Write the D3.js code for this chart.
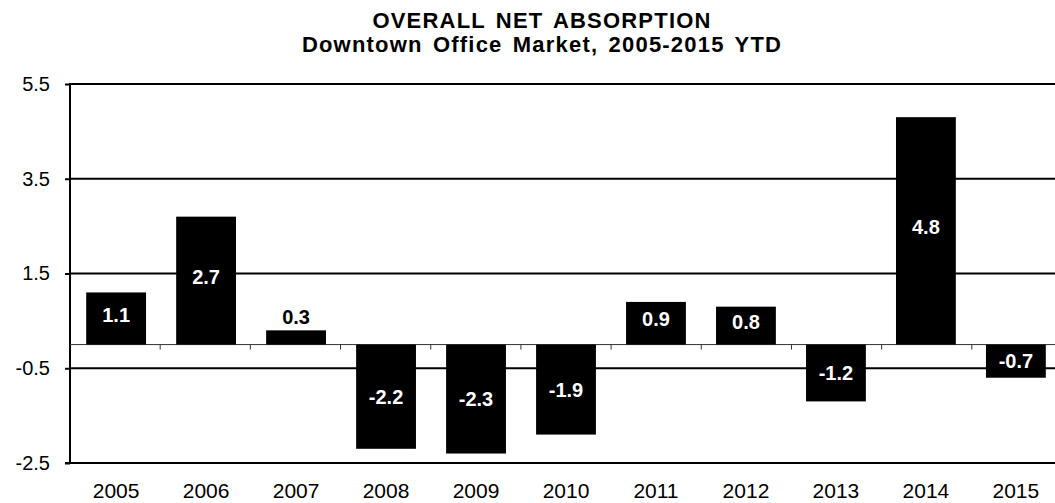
<!DOCTYPE html>
<html>
<head>
<meta charset="utf-8">
<script src="https://cdn.jsdelivr.net/npm/d3@7"></script>
<style>
  html, body { margin: 0; padding: 0; background: #fff; }
  svg { display: block; font-family: "Liberation Sans", Arial, sans-serif; }
</style>
</head>
<body>
<svg id="chart" width="1055" height="503"></svg>
<script>
// Net absorption by year (millions of sq ft), downtown office market
const years = ["2005", "2006", "2007", "2008", "2009", "2010", "2011", "2012", "2013", "2014", "2015"];
const absorption = [1.1, 2.7, 0.3, -2.2, -2.3, -1.9, 0.9, 0.8, -1.2, 4.8, -0.7];
const yTicks = [5.5, 3.5, 1.5, -0.5, -2.5];
const titleLines = ["OVERALL NET ABSORPTION", "Downtown Office Market, 2005-2015  YTD"];

const svg = d3.select("#chart");
const plotLeft = 70, plotRight = 1062, plotTop = 84, plotBottom = 463;

const x = d3.scaleBand().domain(years).range([plotLeft, plotRight]).paddingInner(0.335).paddingOuter(0.18);
const xBand = d3.scaleBand().domain(years).range([plotLeft, plotRight]);
const y = d3.scaleLinear().domain([-2.5, 5.5]).range([plotBottom, plotTop]);

// Title
svg.selectAll("text.title").data(titleLines).join("text")
  .attr("class", "title")
  .attr("x", 542).attr("y", (d, i) => 28 + i * 24)
  .attr("text-anchor", "middle")
  .attr("font-weight", "bold").attr("font-size", 22)
  .attr("letter-spacing", 1.2)
  .attr("word-spacing", 3)
  .text(d => d);

// Horizontal gridlines
svg.append("g").selectAll("line").data(yTicks.filter(t => t !== -2.5)).join("line")
  .attr("x1", plotLeft).attr("x2", 1055)
  .attr("y1", d => y(d)).attr("y2", d => y(d))
  .attr("stroke", "#000").attr("stroke-width", 2);

// Y axis
const yAxis = d3.axisLeft(y).tickValues(yTicks).tickSize(5).tickPadding(15)
  .tickFormat(d3.format(".1f"));
const gy = svg.append("g").attr("transform", `translate(${plotLeft},0)`).call(yAxis);
gy.select(".domain").remove();
gy.selectAll(".tick line").attr("stroke", "#000").attr("stroke-width", 2);
gy.selectAll(".tick text").attr("font-size", 20).attr("fill", "#000")
  .attr("font-family", "Liberation Sans, Arial, sans-serif")
  .text(d => d3.format(".1f")(d).replace("\u2212", "-"));
svg.append("line").attr("x1", plotLeft).attr("x2", plotLeft).attr("y1", plotTop - 1).attr("y2", plotBottom + 1)
  .attr("stroke", "#000").attr("stroke-width", 2);

// Bottom frame line
svg.append("line").attr("x1", plotLeft - 5).attr("x2", 1055).attr("y1", plotBottom).attr("y2", plotBottom)
  .attr("stroke", "#000").attr("stroke-width", 2);

// Zero baseline with category separators
svg.append("line").attr("x1", plotLeft).attr("x2", 1055).attr("y1", y(0)).attr("y2", y(0))
  .attr("stroke", "#333").attr("stroke-width", 1);
svg.append("g").selectAll("line").data(years.slice(1)).join("line")
  .attr("x1", d => xBand(d)).attr("x2", d => xBand(d))
  .attr("y1", y(0)).attr("y2", y(0) + 5)
  .attr("stroke", "#333").attr("stroke-width", 1);

// Bars
const data = years.map((yr, i) => ({ year: yr, value: absorption[i] }));
svg.append("g").selectAll("rect").data(data).join("rect")
  .attr("x", d => x(d.year))
  .attr("width", x.bandwidth())
  .attr("y", d => y(Math.max(0, d.value)))
  .attr("height", d => Math.abs(y(d.value) - y(0)))
  .attr("fill", "#000");

// Value labels: inside the bar when it is tall enough, otherwise above it
const fmt = v => d3.format(".1f")(v).replace("\u2212", "-");
const isShort = d => Math.abs(y(d.value) - y(0)) < 25;
svg.append("g").selectAll("text").data(data).join("text")
  .attr("x", d => x(d.year) + x.bandwidth() / 2)
  .attr("y", d => {
    if (isShort(d)) return y(Math.max(0, d.value)) - 6;
    return (y(d.value) + y(0)) / 2 + (d.value < 0 ? 7 : 3);
  })
  .attr("text-anchor", "middle")
  .attr("font-weight", "bold").attr("font-size", 20)
  .attr("fill", d => isShort(d) ? "#000" : "#fff")
  .text(d => fmt(d.value));

// X category labels
svg.append("g").selectAll("text").data(years).join("text")
  .attr("x", d => x(d) + x.bandwidth() / 2)
  .attr("y", 498)
  .attr("text-anchor", "middle")
  .attr("font-size", 21)
  .text(d => d);
</script>
</body>
</html>
